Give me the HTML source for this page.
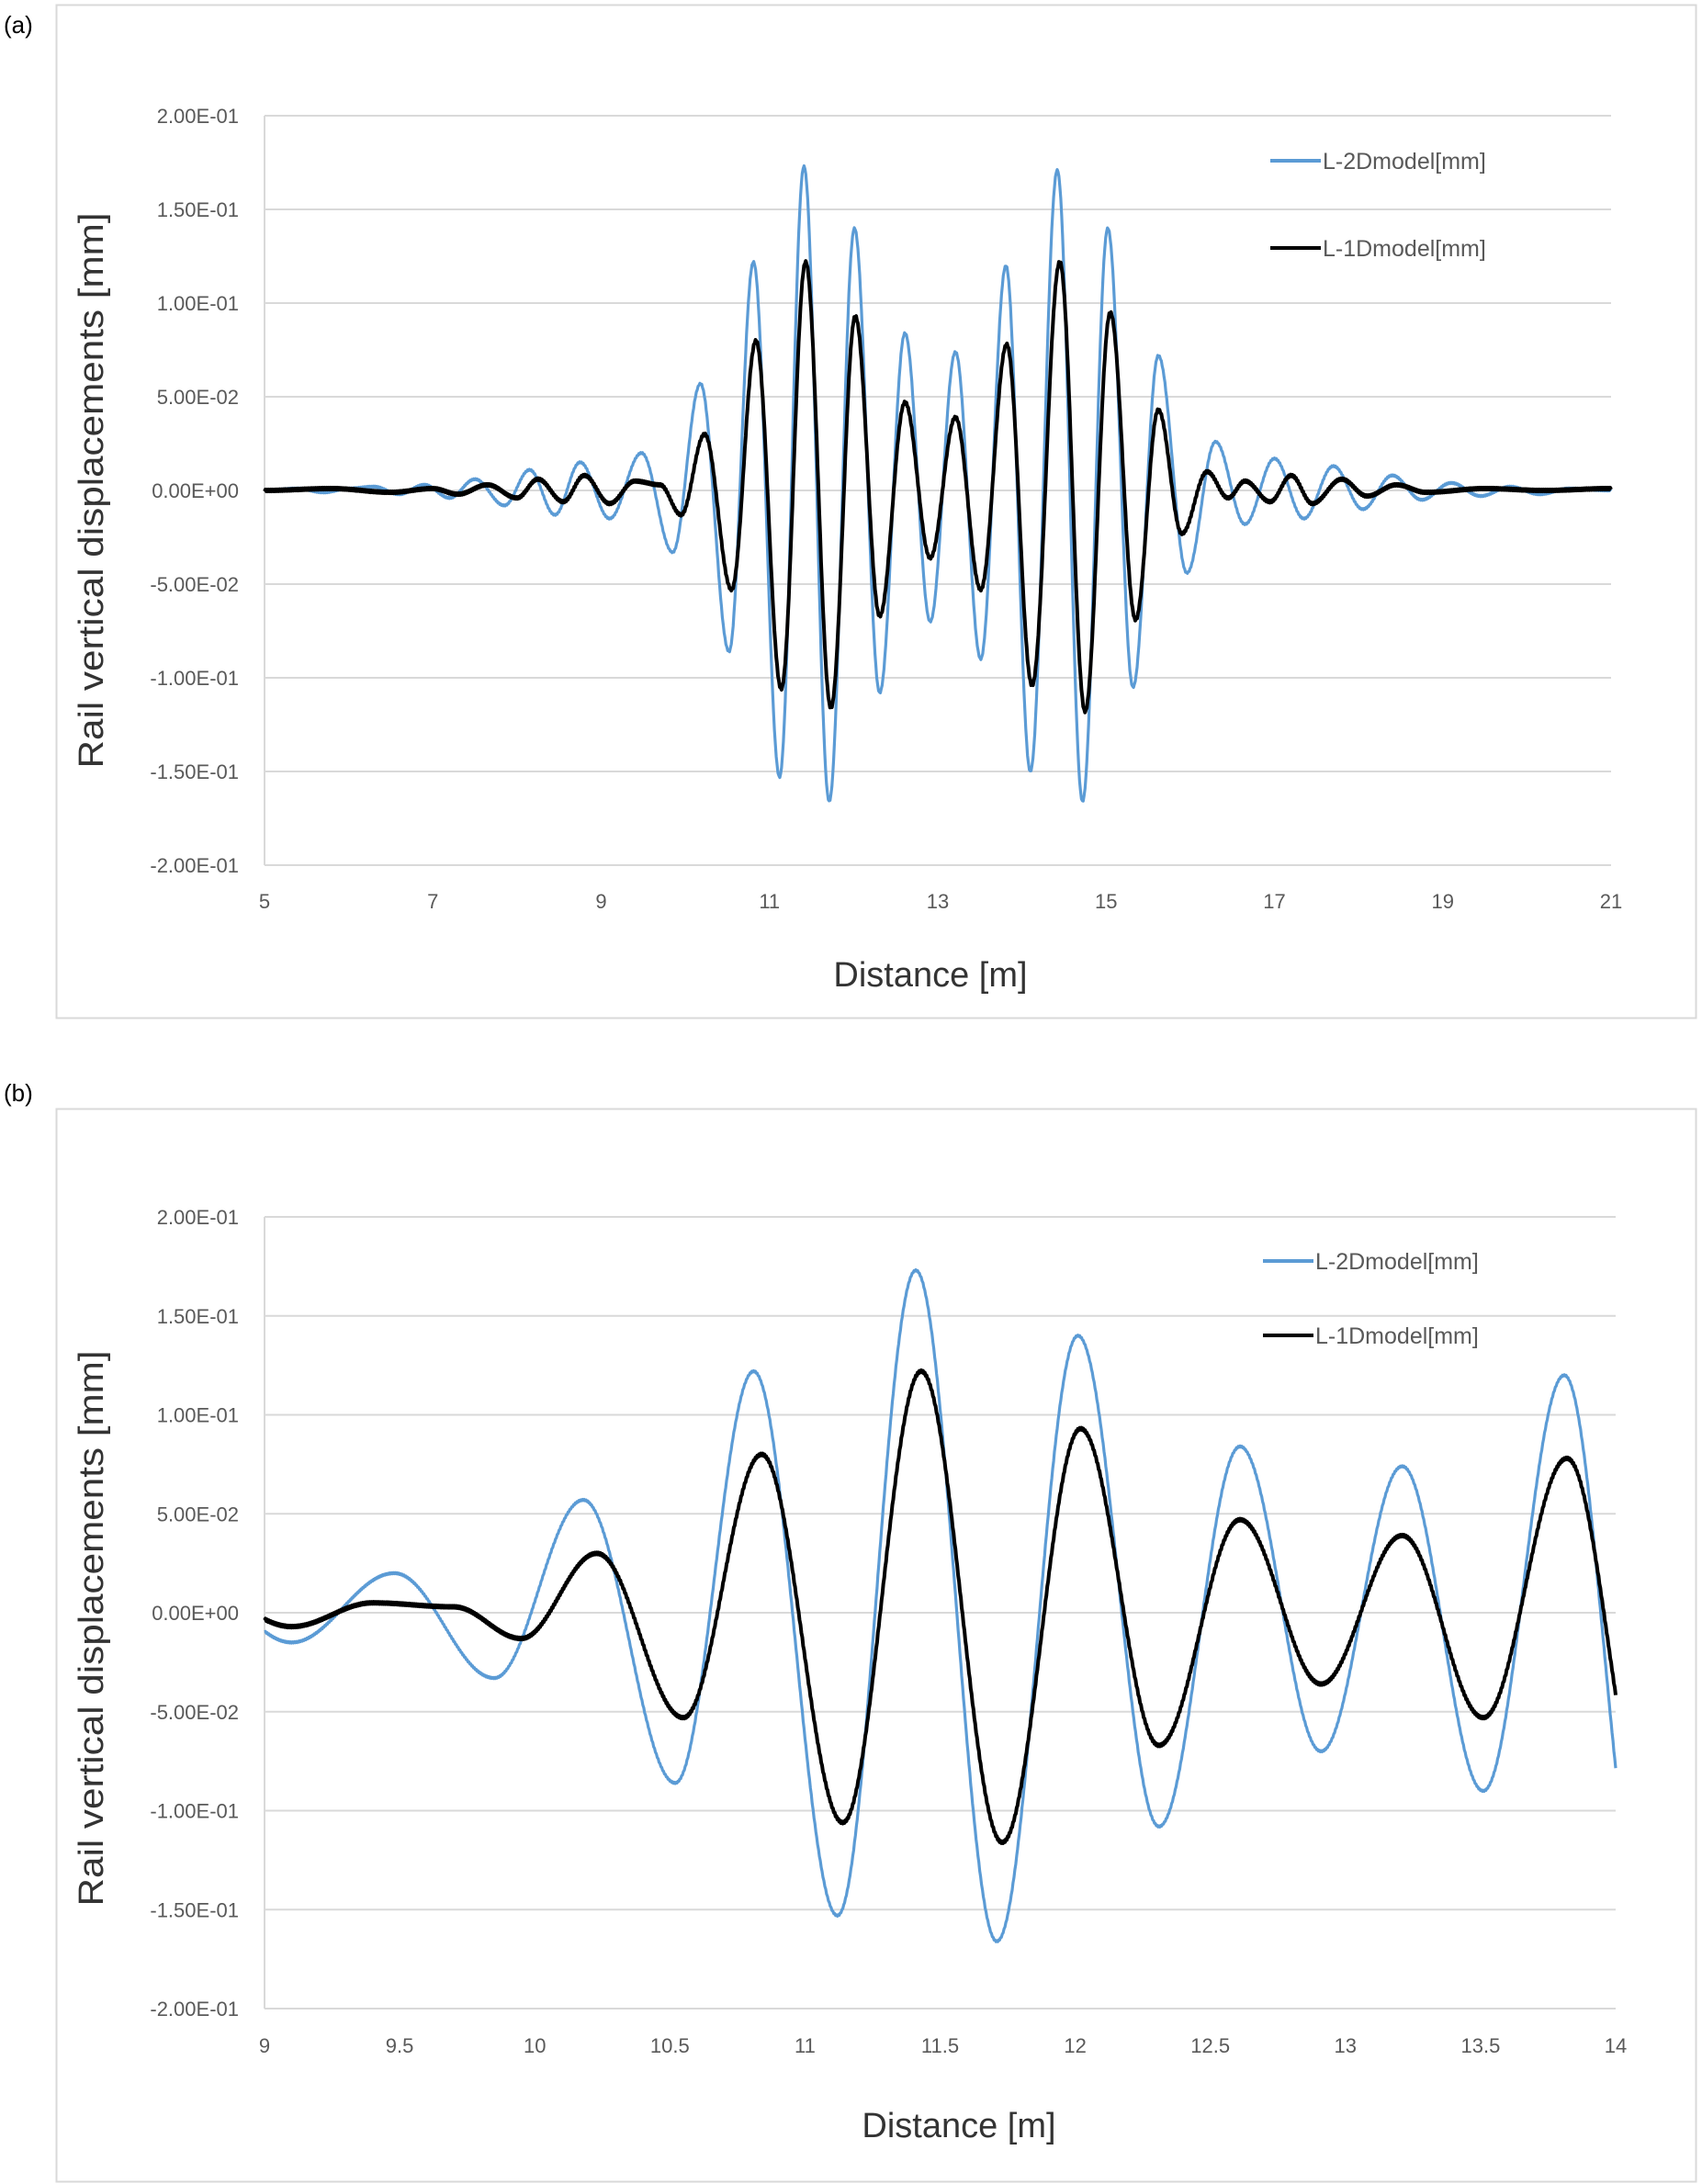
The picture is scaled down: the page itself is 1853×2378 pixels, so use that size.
<!DOCTYPE html>
<html><head><meta charset="utf-8">
<style>
html,body{margin:0;padding:0;background:#fff;}
svg{display:block;}
text{font-family:"Liberation Sans",sans-serif;}
</style></head>
<body>
<svg id="s" width="1853" height="2378" xmlns="http://www.w3.org/2000/svg">
<text x="4" y="36" font-size="26" fill="#000">(a)</text>
<text x="4" y="1199" font-size="26" fill="#000">(b)</text>
<rect x="61.5" y="5.5" width="1785" height="1103" fill="none" stroke="#d9d9d9" stroke-width="2"/>
<rect x="61.5" y="1207.5" width="1785" height="1168" fill="none" stroke="#d9d9d9" stroke-width="2"/>
<g id="ga"></g>
<g id="gb"></g>
</svg>
<script>
var NS="http://www.w3.org/2000/svg";
function el(p,t,a,txt){var e=document.createElementNS(NS,t);for(var k in a)e.setAttribute(k,a[k]);if(txt!==undefined)e.textContent=txt;p.appendChild(e);return e;}
var blue=[[5,0],[5.4,0.001],[5.7,-0.001],[6.0,0.001],[6.3,0.002],[6.6,-0.002],[6.9,0.003],[7.2,-0.004],[7.5,0.006],[7.85,-0.008],[8.15,0.011],[8.45,-0.013],[8.75,0.015],[9.1,-0.015],[9.48,0.02],[9.85,-0.033],[10.18,0.057],[10.52,-0.086],[10.81,0.122],[11.12,-0.153],[11.41,0.173],[11.71,-0.166],[12.01,0.140],[12.31,-0.108],[12.61,0.084],[12.91,-0.070],[13.21,0.074],[13.51,-0.090],[13.81,0.120],[14.1,-0.150],[14.42,0.171],[14.72,-0.166],[15.02,0.140],[15.32,-0.105],[15.62,0.072],[15.96,-0.044],[16.3,0.026],[16.65,-0.018],[17.0,0.017],[17.35,-0.015],[17.7,0.013],[18.05,-0.010],[18.4,0.008],[18.75,-0.005],[19.1,0.004],[19.45,-0.003],[19.8,0.002],[20.15,-0.002],[20.5,0.001],[21,0]];
var black=[[5,0],[5.8,0.001],[6.5,-0.001],[7.0,0.001],[7.3,-0.002],[7.65,0.003],[8.0,-0.004],[8.25,0.006],[8.55,-0.006],[8.8,0.008],[9.1,-0.007],[9.4,0.005],[9.7,0.003],[9.95,-0.013],[10.23,0.030],[10.55,-0.053],[10.84,0.080],[11.14,-0.106],[11.43,0.122],[11.73,-0.116],[12.02,0.093],[12.31,-0.067],[12.61,0.047],[12.91,-0.036],[13.21,0.039],[13.51,-0.053],[13.82,0.078],[14.12,-0.104],[14.45,0.122],[14.75,-0.118],[15.05,0.095],[15.35,-0.069],[15.62,0.043],[15.9,-0.023],[16.2,0.010],[16.45,-0.004],[16.65,0.005],[16.95,-0.006],[17.2,0.008],[17.45,-0.007],[17.8,0.006],[18.1,-0.003],[18.45,0.003],[18.8,-0.001],[19.5,0.001],[20.2,0],[21,0.001]];
function val(ext,x){for(var i=0;i<ext.length-1;i++){var a=ext[i],b=ext[i+1];if(x>=a[0]&&x<=b[0]){var t=(x-a[0])/(b[0]-a[0]);var c=(1-Math.cos(Math.PI*t))/2;return a[1]+(b[1]-a[1])*c;}}return 0;}
function chart(g,o){
 var X=function(x){return o.l+(x-o.x0)/(o.x1-o.x0)*(o.r-o.l);};
 var Y=function(v){return o.t+(0.2-v)/0.4*(o.b-o.t);};
 var labs=["2.00E-01","1.50E-01","1.00E-01","5.00E-02","0.00E+00","-5.00E-02","-1.00E-01","-1.50E-01","-2.00E-01"];
 for(var i=0;i<9;i++){var v=0.2-i*0.05,y=Y(v);
  el(g,"line",{x1:o.l,x2:o.r,y1:y,y2:y,stroke:"#d9d9d9","stroke-width":2});
  el(g,"text",{x:o.l-28,y:y+8,"font-size":22,fill:"#595959","text-anchor":"end"},labs[i]);}
 el(g,"line",{x1:o.l,x2:o.l,y1:o.t,y2:o.b,stroke:"#d9d9d9","stroke-width":2});
 o.ticks.forEach(function(tk){el(g,"text",{x:X(tk),y:o.xl,"font-size":22,fill:"#595959","text-anchor":"middle"},String(tk));});
 el(g,"text",{x:o.tx,y:o.ty,"font-size":38,fill:"#333","text-anchor":"middle"},"Distance [m]");
 el(g,"text",{x:0,y:0,"font-size":38,fill:"#333","text-anchor":"middle",transform:"translate("+(o.yx)+","+o.yy+") rotate(-90)",textLength:605,lengthAdjust:"spacingAndGlyphs"},"Rail vertical displacements  [mm]");
 [[blue,"#5B9BD5",3.2],[black,"#000",4]].forEach(function(s){
  var d="",n=1500;for(var k=0;k<=n;k++){var x=o.x0+(o.x1-o.x0)*k/n;var v=val(s[0],x)+ (k%2?0.0005:-0.0005)*(s[1]=="#000"?1:0.6);d+=(k?"L":"M")+X(x).toFixed(1)+","+Y(v).toFixed(1);}
  el(g,"path",{d:d,fill:"none",stroke:s[1],"stroke-width":s[2],"stroke-linejoin":"round"});});
 el(g,"line",{x1:o.lgx,x2:o.lgx+55,y1:o.lg1,y2:o.lg1,stroke:"#5B9BD5","stroke-width":4});
 el(g,"line",{x1:o.lgx,x2:o.lgx+55,y1:o.lg2,y2:o.lg2,stroke:"#000","stroke-width":4});
 el(g,"text",{x:o.lgx+57,y:o.lg1+9,"font-size":25,fill:"#595959"},"L-2Dmodel[mm]");
 el(g,"text",{x:o.lgx+57,y:o.lg2+9,"font-size":25,fill:"#595959"},"L-1Dmodel[mm]");
}
chart(document.getElementById("ga"),{l:288,r:1754,t:126,b:942,x0:5,x1:21,ticks:[5,7,9,11,13,15,17,19,21],xl:989,tx:1013,ty:1074,yx:112,yy:534,lgx:1383,lg1:175,lg2:270});
chart(document.getElementById("gb"),{l:288,r:1759,t:1325,b:2187,x0:9,x1:14,ticks:[9,9.5,10,10.5,11,11.5,12,12.5,13,13.5,14],xl:2235,tx:1044,ty:2327,yx:112,yy:1773,lgx:1375,lg1:1373,lg2:1454});
</script>
</body></html>
